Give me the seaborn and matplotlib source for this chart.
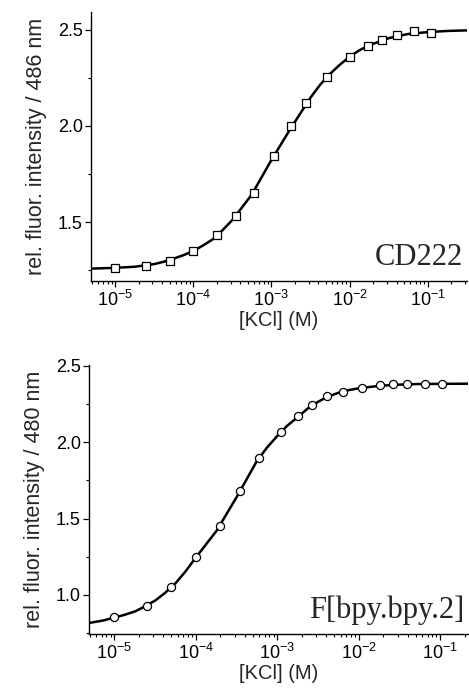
import numpy as np
import pandas as pd
import matplotlib
matplotlib.use("Agg")
import matplotlib.pyplot as plt
from matplotlib.ticker import LogLocator, MultipleLocator, NullFormatter, FormatStrFormatter
import seaborn as sns

# ---- data ----
top_kcl = [1.0e-5, 2.5e-5, 5.0e-5, 1.0e-4, 2.0e-4, 3.5e-4, 5.9e-4, 1.07e-3, 1.8e-3,
           2.75e-3, 5.1e-3, 1.0e-2, 1.7e-2, 2.6e-2, 4.0e-2, 6.6e-2, 1.1e-1]
top_int = [1.259, 1.272, 1.297, 1.351, 1.431, 1.531, 1.653, 1.844, 2.000,
           2.121, 2.257, 2.361, 2.417, 2.446, 2.472, 2.493, 2.481]

bot_kcl = [1.0e-5, 2.5e-5, 5.0e-5, 1.0e-4, 2.0e-4, 3.5e-4, 5.9e-4, 1.1e-3, 1.8e-3,
           2.7e-3, 4.1e-3, 6.5e-3, 1.1e-2, 1.8e-2, 2.6e-2, 3.9e-2, 6.5e-2, 1.05e-1]
bot_int = [0.854, 0.930, 1.054, 1.248, 1.450, 1.683, 1.894, 2.063, 2.170,
           2.245, 2.300, 2.330, 2.352, 2.372, 2.378, 2.380, 2.382, 2.382]

top_fit_kcl = [4.9e-6, 1.0e-5, 1.8e-5, 3.2e-5, 4.22e-5, 5.6e-5, 7.5e-5, 1.0e-4, 1.33e-4,
               1.8e-4, 2.37e-4, 3.2e-4, 5.6e-4, 1.0e-3, 1.8e-3, 3.2e-3, 4.22e-3,
               5.6e-3, 7.5e-3, 1.0e-2, 1.33e-2, 1.8e-2, 3.2e-2, 5.6e-2, 1.0e-1,
               1.8e-1, 3.2e-1]
top_fit_int = [1.258, 1.262, 1.268, 1.282, 1.294, 1.310, 1.328, 1.350, 1.378,
               1.412, 1.458, 1.513, 1.643, 1.823, 1.993, 2.150, 2.215,
               2.270, 2.318, 2.360, 2.393, 2.420, 2.457, 2.478, 2.488,
               2.494, 2.497]

bot_fit_kcl = [4.9e-6, 7.1e-6, 1.0e-5, 1.33e-5, 1.8e-5, 2.37e-5, 3.2e-5, 4.22e-5,
               5.6e-5, 7.5e-5, 1.0e-4, 1.33e-4, 1.8e-4, 3.2e-4, 5.6e-4, 7.5e-4,
               1.0e-3, 1.33e-3, 1.8e-3, 2.37e-3, 3.2e-3, 4.22e-3, 5.6e-3, 7.5e-3,
               1.0e-2, 1.8e-2, 3.2e-2, 5.6e-2, 1.0e-1, 2.2e-1]
bot_fit_int = [0.817, 0.832, 0.852, 0.870, 0.893, 0.925, 0.965, 1.015,
               1.075, 1.155, 1.245, 1.330, 1.420, 1.644, 1.875, 1.965,
               2.040, 2.108, 2.165, 2.220, 2.265, 2.298, 2.322, 2.340,
               2.352, 2.368, 2.376, 2.380, 2.381, 2.382]

top_name = "CD222"
bot_name = "F[bpy.bpy.2]"
top_ylabel = "rel. fluor. intensity / 486 nm"
bot_ylabel = "rel. fluor. intensity / 480 nm"
xlabel = "[KCl] (M)"

sns.set_theme(style="ticks")
plt.rcParams['font.family'] = ['Liberation Sans', 'DejaVu Sans']
plt.rcParams['mathtext.default'] = 'regular'

fig = plt.figure(figsize=(4.69, 6.89), dpi=100)
ax1 = fig.add_axes([0.194, 0.592, 0.802, 0.391])
ax2 = fig.add_axes([0.190, 0.0794, 0.808, 0.391])


def draw(ax, kcl, inten, fkcl, fint, marker, ms, name, ylabel, xlim, ylim, yticks):
    dfit = pd.DataFrame({"kcl": fkcl, "val": fint})
    dpts = pd.DataFrame({"kcl": kcl, "val": inten})
    sns.lineplot(data=dfit, x="kcl", y="val", ax=ax, color="black", lw=1.8,
                 zorder=2, sort=True)
    sns.scatterplot(data=dpts, x="kcl", y="val", ax=ax, marker=marker, s=ms,
                    facecolor="white", edgecolor="black", linewidth=0.9, zorder=3)
    ax.set_xscale("log")
    ax.set_xlim(*xlim)
    ax.set_ylim(*ylim)
    ax.set_yticks(yticks)
    ax.yaxis.set_minor_locator(MultipleLocator(0.25))
    ax.xaxis.set_major_locator(LogLocator(base=10, numticks=20))
    ax.xaxis.set_minor_locator(LogLocator(base=10, subs=np.arange(2, 10), numticks=20))
    ax.xaxis.set_minor_formatter(NullFormatter())
    ax.yaxis.set_major_formatter(FormatStrFormatter('%.1f'))
    for s in ("top", "right"):
        ax.spines[s].set_visible(False)
    for s in ("left", "bottom"):
        ax.spines[s].set_linewidth(1.0)
        ax.spines[s].set_color("black")
    ax.tick_params(which="major", direction="out", length=4, width=0.9,
                   labelsize=13, pad=2, colors="black")
    ax.tick_params(which="minor", direction="out", length=2, width=0.8, colors="black")
    ax.set_xlabel(xlabel, fontsize=14.5, labelpad=1)
    ax.set_ylabel(ylabel, fontsize=15.5, labelpad=8)
    ax.text(0.99, 0.06, name, transform=ax.transAxes, ha="right", va="baseline",
            fontsize=22, family=["Liberation Serif", "DejaVu Serif"])
    ax.set_facecolor("white")


draw(ax1, top_kcl, top_int, top_fit_kcl, top_fit_int, "s", 28, top_name, top_ylabel,
     (4.9e-6, 0.32), (1.193, 2.594), [1.5, 2.0, 2.5])
draw(ax2, bot_kcl, bot_int, bot_fit_kcl, bot_fit_int, "o", 34, bot_name, bot_ylabel,
     (4.9e-6, 0.22), (0.743, 2.505), [1.0, 1.5, 2.0, 2.5])

fig.savefig("out.png", dpi=100, facecolor="white")
